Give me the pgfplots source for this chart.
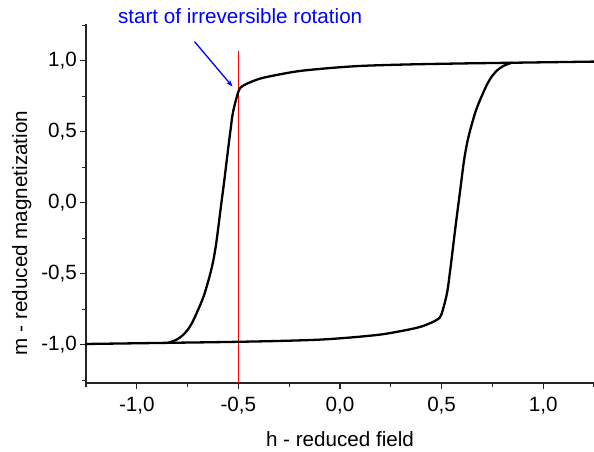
\documentclass[border=0pt]{standalone}
\usepackage{fontspec}
\setmainfont{Liberation Sans}
\usepackage{pgfplots}
\pgfplotsset{compat=1.18}
\usetikzlibrary{arrows.meta}
\begin{document}
\fontsize{20.7}{24}\selectfont
\begin{tikzpicture}[font=\fontsize{20.7}{24}\selectfont]
\useasboundingbox (-86bp,-69bp) rectangle (508bp,383bp);
\begin{axis}[
  at={(0,0)}, anchor=south west,
  scale only axis, width=508bp, height=359bp,
  xmin=-1.25, xmax=1.25, ymin=-1.27, ymax=1.26,
  axis x line=bottom, axis y line=left,
  axis line style={-, line width=1.2bp, black!85},
  xtick={-1,-0.5,0,0.5,1}, ytick={-1,-0.5,0,0.5,1},
  minor xtick={-1.25,-0.75,-0.25,0.25,0.75,1.25},
  minor ytick={-1.25,-0.75,-0.25,0.25,0.75,1.25},
  tick align=outside,
  major tick length=6bp, minor tick length=3.5bp,
  tick style={line width=1.2bp, black!85},
  /pgf/number format/assume math mode=true,
  /pgf/number format/use comma,
  /pgf/number format/fixed,
  /pgf/number format/fixed zerofill,
  /pgf/number format/precision=1,
  xticklabel style={anchor=north, inner sep=0pt, yshift=-8bp},
  yticklabel style={anchor=east, inner sep=0pt, xshift=-3bp},
  xlabel={h - reduced field},
  ylabel={m - reduced magnetization},
  xlabel style={at={(axis description cs:0.5,-0.1755)}, anchor=base},
  ylabel style={at={(axis description cs:-0.116,0.418)}, anchor=base},
  clip=false,
]
% red marker line at h = -0.5
\addplot[red, line width=0.9bp] coordinates {(-0.5,-1.27) (-0.5,1.07)};
% upper branch
\addplot[black, line width=2.3bp, smooth, line cap=round] coordinates {
(1.25,0.995) (1.0,0.99) (0.8,0.986) (0.6,0.982) (0.338,0.975) (0.109,0.965)
(-0.054,0.949) (-0.217,0.925) (-0.381,0.880) (-0.446,0.847) (-0.46,0.838)
(-0.48,0.822) (-0.49,0.811) (-0.5,0.784)};
% left switching
\addplot[black, line width=2.3bp, smooth, line cap=round] coordinates {
(-0.5,0.784) (-0.51,0.735) (-0.52,0.68) (-0.53,0.61) (-0.54,0.50) (-0.548,0.41)
(-0.569,0.162) (-0.588,-0.049) (-0.609,-0.284) (-0.624,-0.41) (-0.642,-0.519)
(-0.670,-0.655) (-0.700,-0.760) (-0.725,-0.838) (-0.749,-0.894) (-0.775,-0.935)
(-0.805,-0.965) (-0.847,-0.988)};
% lower branch
\addplot[black, line width=2.3bp, smooth, line cap=round] coordinates {
(-1.25,-0.995) (-1.0,-0.99) (-0.8,-0.986) (-0.6,-0.982) (-0.338,-0.975) (-0.109,-0.965)
(0.054,-0.949) (0.217,-0.925) (0.381,-0.880) (0.446,-0.847) (0.46,-0.838)
(0.48,-0.822) (0.49,-0.811) (0.5,-0.784)};
% right switching
\addplot[black, line width=2.3bp, smooth, line cap=round] coordinates {
(0.5,-0.784) (0.51,-0.735) (0.52,-0.68) (0.53,-0.61) (0.54,-0.50) (0.548,-0.41)
(0.569,-0.162) (0.588,0.049) (0.609,0.284) (0.624,0.41) (0.642,0.519)
(0.670,0.655) (0.700,0.760) (0.725,0.838) (0.749,0.894) (0.775,0.935)
(0.805,0.965) (0.847,0.988)};
% annotation
\draw[blue, line width=1.3bp, -{Stealth[length=7bp,width=5bp]}] (axis cs:-0.716,1.136) -- (axis cs:-0.529,0.819);
\node[blue, anchor=base west, inner sep=0pt] at (axis cs:-1.093,1.26) {start of irreversible rotation};
\end{axis}
\end{tikzpicture}
\end{document}
